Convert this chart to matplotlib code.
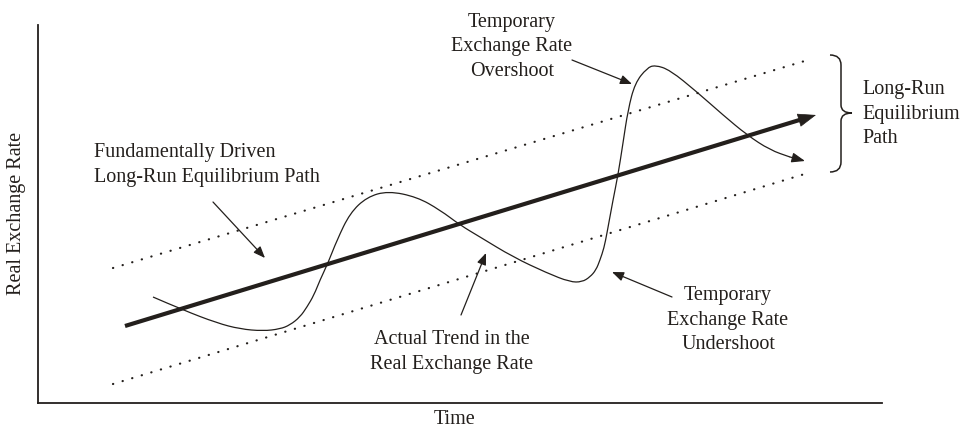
import matplotlib.pyplot as plt
import numpy as np
from matplotlib.path import Path
from matplotlib.patches import PathPatch

plt.rcParams['font.family'] = ['Liberation Serif', 'DejaVu Serif']
ink = '#231f1c'
H = 429  # image height, y values below are read in picture pixels then flipped
fs = 14.5
ls = 1.38

# long-run path (thick arrow) and the band around it
trend_x = [125, 816]
trend_y = [326, 115]
upper_x = [113, 808]
upper_y = [268, 60]
lower_x = [113, 808]
lower_y = [384, 173]

# actual real exchange rate path
actual_x = [153, 183, 217, 240, 263, 280, 290, 300, 307, 314, 320, 328, 337, 350, 367, 388,
            417, 440, 460, 480, 513, 547, 570, 582, 590, 596, 600, 604, 607, 613, 618, 623,
            628, 635, 647, 655, 670, 697, 723, 747, 770, 790, 805]
actual_y = [297, 310, 323, 329, 331, 329, 325, 317, 307, 295, 280, 263, 240, 213, 197, 191,
            197, 210, 225, 237, 257, 273, 282, 282, 277, 270, 260, 248, 233, 200, 175, 143,
            110, 83, 68, 65, 70, 92, 115, 135, 150, 157, 161]

fig = plt.figure(figsize=(9.65, 4.29), dpi=100)
ax = fig.add_axes([38/965, 26/429, 844/965, 378/429])
ax.set_xlim(38, 882)
ax.set_ylim(H - 403, H - 25)
for s in ['top', 'right']:
    ax.spines[s].set_visible(False)
for s in ['left', 'bottom']:
    ax.spines[s].set_color(ink)
    ax.spines[s].set_linewidth(1.3)
ax.set_xticks([])
ax.set_yticks([])

fy = lambda ys: [H - v for v in ys]

ax.plot(upper_x, fy(upper_y), color=ink, lw=1.6, dashes=(0.1, 4.4), dash_capstyle='round')
ax.plot(lower_x, fy(lower_y), color=ink, lw=1.6, dashes=(0.1, 4.4), dash_capstyle='round')

ax.plot(trend_x[:1] + [trend_x[1] - 10], fy(trend_y[:1] + [trend_y[1] + 3]), color=ink, lw=3.0,
        solid_capstyle='butt')
ax.annotate('', xy=(trend_x[1], H - trend_y[1]), xytext=(trend_x[1] - 22, H - trend_y[1] - 6.7),
            arrowprops=dict(arrowstyle='-|>,head_length=1.2,head_width=0.45', color=ink, lw=0.5,
                            shrinkA=0, shrinkB=0))

# smooth curve: read points used as quadratic spline control points
pts = list(zip(actual_x[:-1], fy(actual_y[:-1])))
verts = [pts[0]]
codes = [Path.MOVETO]
for i in range(1, len(pts) - 1):
    mid = ((pts[i][0] + pts[i + 1][0]) / 2, (pts[i][1] + pts[i + 1][1]) / 2)
    verts += [pts[i], mid]
    codes += [Path.CURVE3, Path.CURVE3]
verts.append(pts[-1])
codes.append(Path.LINETO)
ax.add_patch(PathPatch(Path(verts, codes), fill=False, edgecolor=ink, lw=0.9))
ax.annotate('', xy=(actual_x[-1], H - actual_y[-1]), xytext=(actual_x[-2], H - actual_y[-2]),
            arrowprops=dict(arrowstyle='-|>,head_length=0.8,head_width=0.3', color=ink, lw=0.9,
                            shrinkA=0, shrinkB=0))

arrow = dict(arrowstyle='-|>,head_length=0.7,head_width=0.28', color=ink, lw=0.9,
             shrinkA=0, shrinkB=0)
ax.text(94, H - 165, 'Fundamentally Driven\nLong-Run Equilibrium Path', fontsize=fs, color=ink,
        ha='left', va='center', linespacing=ls)
ax.annotate('', xy=(265, H - 258), xytext=(213, H - 202), arrowprops=arrow)

ax.text(512, H - 47, 'Temporary\nExchange Rate\nOvershoot', fontsize=fs, color=ink,
        ha='center', va='center', linespacing=ls)
ax.annotate('', xy=(632, H - 84), xytext=(572, H - 60), arrowprops=arrow)

ax.text(452, H - 352, 'Actual Trend in the\nReal Exchange Rate', fontsize=fs, color=ink,
        ha='center', va='center', linespacing=ls)
ax.annotate('', xy=(486, H - 253), xytext=(461, H - 315), arrowprops=arrow)

ax.text(728, H - 320, 'Temporary\nExchange Rate\nUndershoot', fontsize=fs, color=ink,
        ha='center', va='center', linespacing=ls)
ax.annotate('', xy=(612, H - 272), xytext=(672, H - 297), arrowprops=arrow)

ax.text(862, H - 114, 'Long-Run\nEquilibrium\nPath', fontsize=fs, color=ink,
        ha='left', va='center', linespacing=ls, clip_on=False)

# curly brace next to the band ends
bx0, bx1, bt, bm, bb = 830, 852, 55, 113, 172
xm = (bx0 + bx1) / 2
codes = [Path.MOVETO, Path.CURVE3, Path.CURVE3, Path.LINETO,
         Path.CURVE3, Path.CURVE3, Path.MOVETO,
         Path.CURVE3, Path.CURVE3, Path.LINETO,
         Path.CURVE3, Path.CURVE3, Path.MOVETO]
verts = [(bx0, H - bt), (xm, H - bt), (xm, H - bt - 10),
         (xm, H - bm + 8), (xm, H - bm), (bx1, H - bm),
         (bx1, H - bm), (xm, H - bm), (xm, H - bm - 8),
         (xm, H - bb + 10), (xm, H - bb), (bx0, H - bb), (bx0, H - bb)]
ax.add_patch(PathPatch(Path(verts, codes), fill=False, edgecolor=ink, lw=1.1, clip_on=False))

fig.text(17/965, 1 - 213/429, 'Real Exchange Rate', rotation=90, fontsize=fs, color=ink,
         ha='center', va='center')
fig.text(455/965, 1 - 420/429, 'Time', fontsize=fs, color=ink, ha='center', va='center')

fig.savefig('out.png', dpi=100)
